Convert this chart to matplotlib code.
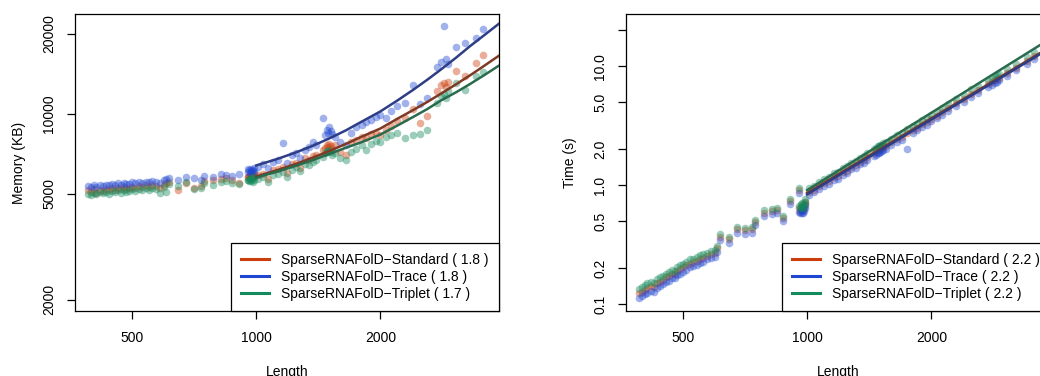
import matplotlib
matplotlib.use("Agg")
import matplotlib.pyplot as plt
from matplotlib.ticker import NullLocator

plt.rcParams['font.family'] = ['Liberation Sans', 'DejaVu Sans']
plt.rcParams['font.size'] = 10

# sequence lengths (shared by all three tools)
lengths = [392, 398, 405, 410, 418, 425, 432, 440, 448, 455, 462, 470, 478, 485, 492,
           500, 510, 520, 530, 540, 550, 560, 572, 585, 598,
           605, 616, 645, 676, 708, 735, 749, 785, 823, 846, 875, 910, 953,
           958, 962, 966, 970, 974, 978, 982, 986, 990,
           1010, 1040, 1070, 1100, 1130, 1160, 1190, 1220, 1250, 1280, 1310, 1340, 1370, 1400,
           1450, 1470, 1485, 1495, 1505, 1515, 1530, 1550,
           1600, 1650, 1700, 1750, 1800, 1850, 1900, 1950, 2000, 2060, 2120, 2200,
           2300, 2400, 2500, 2600,
           2750, 2800, 2850, 2880, 2920,
           3050, 3200, 3400, 3550]

# memory (KB)
mem_standard = [5150, 5100, 5200, 5050, 5180, 5120, 5220, 5150, 5250, 5180, 5260, 5200, 5300, 5220, 5280,
                5320, 5250, 5350, 5300, 5380, 5320, 5400, 5350, 5280, 5420,
                5500, 5560, 5190, 5480, 5250, 5350, 5600, 5650, 5700, 5750, 5620, 5500, 5800,
                5800, 5850, 5750, 5900, 5820, 5880, 5780, 5950, 5850,
                5900, 5950, 5700, 6150, 6200, 6300, 6000, 6500, 6550, 6250, 6800, 6700, 6950, 7000,
                7300, 7450, 7600, 7500, 7700, 7550, 7400, 7650,
                7200, 7000, 7800, 8000, 8200, 8100, 8400, 8500, 8300, 8700, 9000, 9400,
                9600, 10400, 9200, 9800,
                12200, 12800, 13000, 12600, 13200,
                14500, 13800, 15500, 16600]
mem_trace = [5350, 5300, 5380, 5320, 5400, 5360, 5420, 5380, 5450, 5400, 5480, 5420, 5500, 5460, 5440,
             5520, 5480, 5540, 5500, 5560, 5520, 5600, 5560, 5480, 5620,
             5700, 5750, 5650, 5780, 5720, 5650, 5820, 5800, 5950, 5900, 5850, 5950, 6200,
             6050, 6150, 6000, 6100, 6200, 6080, 6150, 6250, 6050,
             6300, 6500, 6250, 6600, 6700, 7750, 6550, 7000, 7100, 6800, 7300, 7500, 7800, 7600,
             9600, 8300, 8700, 8500, 8900, 8600, 8400, 8200,
             7800, 7600, 8500, 8900, 9100, 9300, 9500, 9700, 9900, 9600, 10200, 10700,
             11000, 12800, 10900, 11500,
             15000, 15600, 21300, 16000, 15400,
             17800, 18500, 19200, 20800]
mem_triplet = [5000, 4950, 5050, 4980, 5100, 5020, 5080, 4990, 5120, 5060, 5150, 5040, 5180, 5100, 5140,
               5200, 5120, 5230, 5160, 5250, 5180, 5280, 5220, 5050, 5300,
               5070, 5450, 5350, 5560, 5200, 5250, 5500, 5400, 5550, 5600, 5500, 5450, 5650,
               5650, 5600, 5700, 5750, 5600, 5680, 5550, 5800, 5650,
               5700, 5800, 5550, 5900, 5950, 6050, 5800, 6150, 6300, 6100, 6450, 6400, 6600, 6700,
               6900, 7100, 7250, 7150, 7300, 7200, 7000, 7100,
               6800, 6700, 7200, 7400, 7600, 7300, 7700, 7900, 7800, 8200, 8300, 8500,
               8100, 8300, 8400, 8700,
               11000, 11700, 11900, 11500, 12200,
               13000, 12300, 13800, 14300]

# time (s)
time_standard = [0.125, 0.128, 0.132, 0.136, 0.142, 0.140, 0.150, 0.155, 0.160, 0.168, 0.172, 0.180, 0.178, 0.190, 0.196,
                 0.205, 0.212, 0.220, 0.225, 0.232, 0.238, 0.245, 0.255, 0.262, 0.270,
                 0.296, 0.37, 0.355, 0.43, 0.42, 0.43, 0.49, 0.59, 0.61, 0.62, 0.53, 0.74, 0.92,
                 0.64, 0.61, 0.66, 0.63, 0.68, 0.62, 0.65, 0.70, 0.72,
                 0.87, 0.92, 0.98, 1.04, 1.08, 1.17, 1.20, 1.30, 1.33, 1.43, 1.48, 1.58, 1.62, 1.73,
                 1.86, 1.90, 1.96, 1.98, 2.01, 2.04, 2.08, 2.12,
                 2.29, 2.44, 2.55, 2.76, 2.92, 3.05, 3.27, 3.40, 3.64, 3.85, 4.12, 4.45,
                 4.88, 5.30, 5.80, 6.30,
                 7.10, 7.36, 7.64, 7.81, 8.04,
                 8.79, 9.72, 11.07, 12.10]
time_trace = [0.112, 0.118, 0.122, 0.125, 0.130, 0.128, 0.138, 0.142, 0.148, 0.155, 0.158, 0.166, 0.165, 0.175, 0.180,
              0.188, 0.195, 0.205, 0.210, 0.215, 0.222, 0.228, 0.238, 0.245, 0.252,
              0.275, 0.345, 0.33, 0.40, 0.39, 0.40, 0.46, 0.55, 0.57, 0.58, 0.50, 0.69, 0.86,
              0.60, 0.58, 0.62, 0.59, 0.63, 0.58, 0.61, 0.65, 0.68,
              0.83, 0.88, 0.93, 0.98, 1.03, 1.10, 1.14, 1.23, 1.26, 1.36, 1.40, 1.50, 1.54, 1.64,
              1.76, 1.80, 1.85, 1.88, 1.91, 1.93, 1.97, 2.00,
              2.17, 2.32, 2.42, 2.00, 2.77, 2.90, 3.10, 3.23, 3.46, 3.66, 3.90, 4.22,
              4.63, 5.05, 5.50, 5.98,
              6.75, 6.99, 7.25, 7.42, 7.64,
              8.35, 9.23, 10.5, 11.5]
time_triplet = [0.135, 0.140, 0.145, 0.150, 0.155, 0.152, 0.162, 0.168, 0.172, 0.180, 0.185, 0.195, 0.192, 0.205, 0.212,
                0.220, 0.228, 0.238, 0.242, 0.250, 0.258, 0.262, 0.272, 0.280, 0.285,
                0.31, 0.39, 0.37, 0.45, 0.44, 0.45, 0.51, 0.62, 0.63, 0.65, 0.55, 0.77, 0.95,
                0.67, 0.64, 0.69, 0.66, 0.71, 0.65, 0.68, 0.73, 0.76,
                0.94, 0.99, 1.06, 1.12, 1.17, 1.26, 1.30, 1.40, 1.44, 1.54, 1.60, 1.71, 1.75, 1.87,
                2.01, 2.05, 2.12, 2.14, 2.17, 2.20, 2.25, 2.29,
                2.47, 2.64, 2.75, 2.98, 3.15, 3.29, 3.53, 3.67, 3.93, 4.16, 4.45, 4.81,
                5.27, 5.72, 6.48, 6.80,
                7.67, 7.95, 8.25, 8.44, 8.68,
                9.49, 10.5, 11.96, 13.07]

# fitted curves (lengths >= 1000)
fit_len_mem = [1000, 1125, 1250, 1375, 1500, 1650, 1786, 2000, 2200, 2400, 2600, 2800, 3050, 3300, 3580, 3876]
fit_mem_standard = [5810, 6140, 6480, 6850, 7230, 7700, 8150, 8800, 9580, 10320, 11080, 11880, 12900, 13950, 15190, 16530]
fit_mem_trace = [6390, 6760, 7160, 7590, 8060, 8660, 9270, 10200, 11220, 12290, 13430, 14640, 16240, 17960, 19800, 21800]
fit_mem_triplet = [5750, 6060, 6375, 6705, 7050, 7450, 7780, 8350, 9030, 9720, 10420, 11200, 12036, 12940, 14005, 15170]

fit_len_time = [1000, 3876]
fit_time_standard = [0.86, 14.5]
fit_time_trace = [0.84, 14.2]
fit_time_triplet = [0.91, 17.0]

names = ["SparseRNAFolD\u2212Standard", "SparseRNAFolD\u2212Trace", "SparseRNAFolD\u2212Triplet"]
mem_exps = ["1.8", "1.8", "1.7"]
time_exps = ["2.2", "2.2", "2.2"]

colors = ["#CC3D0C", "#1E46D0", "#118A5C"]
fit_colors = ["#7E3A24", "#2D3E86", "#2A6B4E"]


def draw_panel(ax, ys, fits, fit_len, exps):
    for y, c in zip(ys, colors):
        ax.scatter(lengths, y, s=30, color=c, alpha=0.42, linewidths=0, zorder=2)
    for f, c in zip(fits, fit_colors):
        ax.plot(fit_len, f, color=c, lw=1.8, zorder=3)
    ax.set_xscale('log')
    ax.set_yscale('log')
    ax.set_xlim(364, 3876)
    ax.set_xticks([500, 1000, 2000])
    ax.set_xticklabels(["500", "1000", "2000"])
    ax.xaxis.set_minor_locator(NullLocator())
    ax.yaxis.set_minor_locator(NullLocator())
    ax.tick_params(axis='both', direction='out', length=5.5, width=0.9, labelsize=10)
    ax.tick_params(axis='x', pad=9)
    ax.tick_params(axis='y', pad=8)
    for s in ax.spines.values():
        s.set_linewidth(0.9)
    ax.set_xlabel("Length", labelpad=14)
    handles = [plt.Line2D([], [], color=c, lw=2.2) for c in colors]
    labels = [n + " ( " + e + " )" for n, e in zip(names, exps)]
    leg = ax.legend(handles, labels, loc='lower right', borderaxespad=0, fancybox=False,
                    edgecolor='black', framealpha=1, fontsize=10, handlelength=2.0,
                    handletextpad=0.85, labelspacing=0.2, borderpad=0.75)
    leg.get_frame().set_linewidth(0.9)
    leg.set_zorder(5)


fig = plt.figure(figsize=(10.4, 3.76), dpi=100)
ax1 = fig.add_axes([75 / 1040, 65 / 376, 424 / 1040, 297 / 376])
ax2 = fig.add_axes([626 / 1040, 65 / 376, 424 / 1040, 297 / 376])

draw_panel(ax1, [mem_standard, mem_trace, mem_triplet],
           [fit_mem_standard, fit_mem_trace, fit_mem_triplet], fit_len_mem, mem_exps)
ax1.set_ylim(1814, 23700)
ax1.set_yticks([2000, 5000, 10000, 20000])
ax1.set_yticklabels(["2000", "5000", "10000", "20000"])
ax1.set_ylabel("Memory (KB)", labelpad=12)

draw_panel(ax2, [time_standard, time_trace, time_triplet],
           [fit_time_standard, fit_time_trace, fit_time_triplet], fit_len_time, time_exps)
ax2.set_ylim(0.0878, 27.5)
ax2.set_yticks([0.1, 0.2, 0.5, 1, 2, 5, 10, 20])
ax2.set_yticklabels(["0.1", "0.2", "0.5", "1.0", "2.0", "5.0", "10.0", ""])
ax2.set_ylabel("Time (s)", labelpad=12)

for ax in [ax1, ax2]:
    for t in ax.get_yticklabels():
        t.set_rotation(90)
        t.set_va('center')

fig.savefig("out.png", dpi=100)
